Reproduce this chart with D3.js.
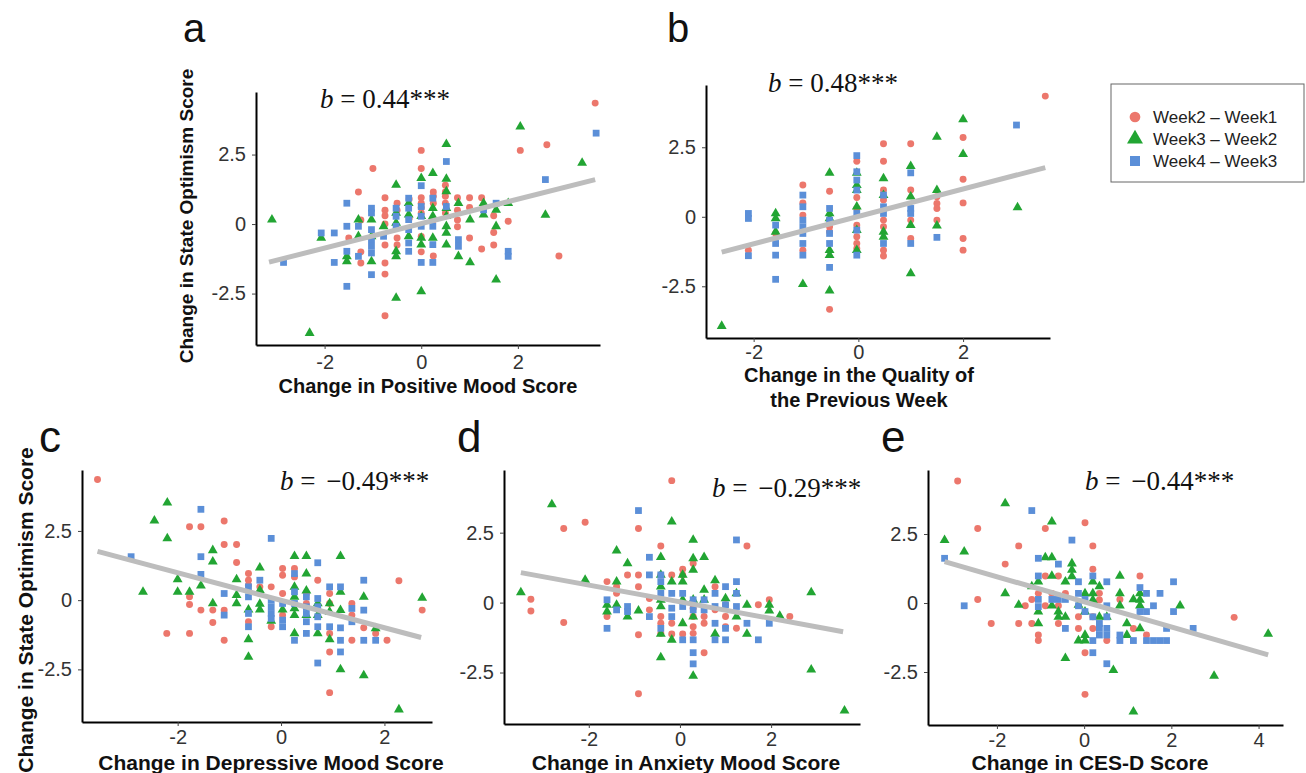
<!DOCTYPE html>
<html lang="en">
<head>
  <meta charset="UTF-8">
  <title>Change in State Optimism Score</title>
  <script src="https://d3js.org/d3.v7.min.js"></script>
  <style>
    body { margin: 0; background: #fff; font-family: "Liberation Sans", Arial, sans-serif; }
    .tick-label { font-size: 20px; fill: #333; }
    .ax-title { font-weight: bold; fill: #111; }
    .slope { font-family: "Liberation Serif", "Times New Roman", serif; font-size: 27px; fill: #111; }
    .letter { fill: #111; }
  </style>
</head>
<body>
  <div id="chart"></div>

  <script>
    // ---- data ----
    const seriesNames = ["Week2 \u2013 Week1", "Week3 \u2013 Week2", "Week4 \u2013 Week3"];
    const xTicks = [-2, 0, 2];
    const xTicksE = [-2, 0, 2, 4];
    const yTicks = [-2.5, 0, 2.5];
    const slopes = ["0.44", "0.48", "\u22120.49", "\u22120.29", "\u22120.44"];

    // panel a: positive mood
    const aW21 = [[-1.0,2.0],[-1.3,1.15],[0,2.65],[0,2.0],[2.05,2.65],[2.6,2.85],[2.85,-1.15],[-0.75,-3.3],[3.6,4.35],
      [0.25,1.15],[-0.75,0.95],[-0.75,0.5],[-0.75,0.3],[-0.75,0],[-0.75,-0.75],[-0.75,-1.4],[-0.75,-1.8],
      [-1.5,-0.5],[-1.25,0.15],[-1.25,-1.0],[-1.25,-1.4],[-0.5,0.75],[-0.5,0.5],[-0.5,-0.5],[-0.5,-0.75],
      [-0.25,0.9],[-0.25,0.2],[0,0.95],[0,0.75],[0,0.6],[0,0.4],[0,-0.45],[0,-1.0],
      [0.25,1.0],[0.25,0.75],[0.25,0.15],[0.25,-1.15],[0.5,1.4],[0.5,1.15],[0.5,1.0],[0.5,0.75],[0.5,0.4],
      [0.75,0.95],[0.75,0.5],[0.75,0.15],[0.75,-0.1],[1.0,0.95],[1.0,0.6],[1.0,-0.5],[1.25,0.95],[1.25,-0.9],
      [1.5,0.3],[1.5,-0.3],[1.5,-0.75],[1.8,0.1]];
    const aW32 = [[-3.09,0.16],[-2.31,-3.92],[-2.07,-0.5],[-1.54,-1.16],[-1.54,-1.34],[-1.3,0.16],[-1.3,-0.44],
      [-1.03,0.16],[-1.03,-0.44],[-1.03,-1.34],[-0.78,-0.08],
      [-0.52,1.41],[-0.52,0.4],[-0.52,0.04],[-0.52,-0.98],[-0.52,-1.16],[-0.52,-2.66],
      [-0.26,0.75],[-0.26,0.34],[-0.26,-0.44],[0,1.65],[0,0.28],[0,-0.5],[0,-0.74],[0,-2.42],
      [0.24,1.83],[0.24,0.57],[0.24,0.28],[0.24,-0.5],
      [0.52,2.87],[0.52,1.62],[0.52,1.17],[0.52,0.57],[0.52,0.28],[0.52,-0.08],[0.52,-0.32],[0.52,-0.74],
      [0.77,0.75],[0.77,-1.16],[1.01,0.16],[1.01,-1.38],[1.29,0.75],[1.29,0.34],
      [1.55,0.51],[1.55,-0.08],[1.55,-2.0],[1.8,0.75],[2.05,3.5],[2.57,0.33],[3.33,2.2]];
    const aW43 = [[-2.85,-1.38],[-2.07,-0.32],[-1.8,-0.32],[-1.8,-1.38],
      [-1.54,0.75],[-1.54,-0.08],[-1.54,-0.98],[-1.54,-2.24],[-1.3,-0.08],[-1.3,-1.16],
      [-1.03,0.57],[-1.03,0.4],[-1.03,-0.2],[-1.03,-0.56],[-1.03,-0.8],[-1.03,-1.04],[-1.03,-1.82],
      [-0.78,-0.44],[-0.52,0.57],[-0.52,0.28],[-0.52,-0.08],
      [-0.26,0.93],[-0.26,0.57],[-0.26,0.16],[-0.26,-0.2],[-0.26,-0.68],[-0.26,-0.98],
      [0,1.38],[0,0.63],[0,0.28],[0,-0.08],[0,-1.38],[0.24,0.93],[0.24,-0.08],[0.24,-0.74],[0.24,-1.38],
      [0.52,0.63],[0.77,-0.56],[0.77,-0.8],[1.29,0.51],[1.55,0.75],[1.8,-0.98],[1.8,-1.16],
      [0.52,2.25],[2.57,1.6],[3.62,3.27]];
    const aFit = [[-3.15,-1.37],[3.6,1.6]];

    // panel b: quality of previous week
    const bW21 = [[-2.1,-1.2],[-1.58,-0.6],[-1.06,1.14],[-1.06,0.5],[-1.06,0.06],[-1.06,-1.2],
      [-0.55,0.92],[-0.55,-0.36],[-0.55,-0.54],[-0.55,-3.33],
      [-0.03,2.0],[-0.03,0.69],[-0.03,0.3],[-0.03,-0.3],[-0.03,-0.72],[-0.03,-0.96],[-0.03,-1.14],
      [0.48,2.63],[0.48,2.0],[0.48,0.96],[0.48,0.6],[0.48,-0.12],[0.48,-0.36],[0.48,-1.2],[0.48,-1.41],
      [1.0,2.63],[1.0,0.96],[1.0,-0.12],[1.0,-0.78],[1.5,0.72],[1.5,0.48],[1.5,0.3],[1.5,-0.12],
      [2.0,2.85],[2.0,1.35],[2.0,0.5],[2.0,-0.78],[2.0,-1.2],[3.57,4.34]];
    const bW32 = [[-2.61,-3.93],[-1.58,0.12],[-1.58,-0.06],[-1.58,-0.54],[-1.06,-2.42],
      [-0.55,1.58],[-0.55,0.12],[-0.55,-0.06],[-0.55,-1.2],[-0.55,-1.38],[-0.55,-2.66],
      [-0.03,1.58],[-0.03,1.14],[-0.03,0.96],[-0.03,0.36],[-0.03,-0.48],[-0.03,-1.2],
      [0.48,1.38],[0.48,0.78],[0.48,-0.54],[0.48,-0.72],[1.0,1.82],[1.0,0.72],[1.0,-0.3],[1.0,-2.04],
      [1.5,2.87],[1.5,0.96],[1.5,-0.32],[2.0,3.5],[2.0,2.25],[3.04,0.34]];
    const bW43 = [[-2.1,0.12],[-2.1,-0.06],[-2.1,-1.4],[-1.58,-0.3],[-1.58,-0.96],[-1.58,-1.38],[-1.58,-2.25],
      [-1.06,0.78],[-1.06,0.36],[-1.06,-0.12],[-1.06,-0.36],[-1.06,-0.6],[-1.06,-0.96],[-1.06,-1.38],
      [-0.55,0.3],[-0.55,-0.12],[-0.55,-0.6],[-0.55,-0.96],[-0.55,-1.82],
      [-0.03,2.2],[-0.03,1.62],[-0.03,1.32],[-0.03,0.96],[-0.03,0.12],[-0.03,-0.48],[-0.03,-1.38],
      [0.48,0.78],[0.48,0.36],[0.48,0.12],[0.48,-0.96],[1.0,1.58],[1.0,0.3],[1.0,0.12],[1.0,-0.96],
      [1.5,-0.74],[3.02,3.3]];
    const bFit = [[-2.61,-1.27],[3.57,1.77]];

    // panel c: depressive mood
    const cW21 = [[-3.55,4.36],[-1.77,2.65],[-1.55,2.65],[-1.1,2.86],[-1.1,2.01],[-0.86,2.01],[-0.86,1.36],
      [-1.77,0.12],[-1.77,-0.16],[-1.55,-0.36],[-1.32,-0.36],[-1.32,-0.81],[-1.1,-0.36],[-1.1,-1.45],
      [-2.21,-1.2],[-1.77,-1.2],[-0.63,0.96],[-0.63,0.72],[-0.63,0.54],[-0.63,-0.78],
      [-0.41,0.48],[-0.41,0.24],[-0.19,0.48],[-0.19,-0.96],[0.03,1.14],[0.03,0.9],[0.03,0.24],[0.03,-0.54],
      [0.26,1.14],[0.26,0.84],[0.49,0.24],[0.49,-0.12],[0.71,0.72],
      [0.94,0.24],[0.94,-0.12],[0.94,-1.2],[0.94,-1.87],[0.94,-3.34],
      [1.37,-0.12],[1.37,-0.54],[1.37,-1.45],[1.6,-1.0],[1.83,-1.2],[2.05,-1.45],[2.28,0.7],[2.73,-0.36]];
    const cW32 = [[-2.67,0.3],[-2.45,2.87],[-2.2,3.52],[-2.2,2.23],[-2.0,0.75],[-2.0,0.3],[-1.77,0.3],[-1.55,0.52],
      [-1.32,1.8],[-1.32,1.39],[-1.32,-0.12],[-0.86,0.75],[-0.86,0.18],[-0.86,-0.12],
      [-0.63,-0.34],[-0.63,-1.42],[-0.63,-2.05],[-0.41,1.17],[-0.41,0.36],[-0.41,-0.14],[-0.41,-0.34],
      [-0.19,-0.75],[0.03,-0.34],[0.26,1.59],[0.26,0.48],[0.26,0.12],[0.26,-0.3],[0.26,-0.54],[0.26,-1.2],
      [0.49,1.59],[0.49,0.96],[0.49,0.34],[0.49,-0.54],[0.71,-0.12],[0.71,-0.54],[0.71,-1.2],
      [0.94,-0.12],[0.94,-0.42],[0.94,-1.42],[1.15,1.59],[1.15,0.3],[1.15,-0.36],[1.15,-2.5],
      [1.6,0.12],[1.6,-2.72],[1.83,-1.02],[2.28,-3.95],[2.73,0.08]];
    const cW43 = [[-2.9,1.57],[-1.55,3.28],[-1.55,1.57],[-1.55,0.93],[-1.1,0.24],[-1.1,-0.54],
      [-0.63,0.48],[-0.63,0.12],[-0.63,-0.48],[-0.63,-0.96],[-0.41,0.72],
      [-0.19,2.23],[-0.19,0],[-0.19,-0.24],[-0.19,-0.48],[-0.19,-0.66],[0.03,-0.12],[0.03,-0.72],[0.03,-0.96],
      [0.26,0.96],[0.26,0.3],[0.26,-0.12],[0.26,-1.45],[0.49,0.12],[0.49,-0.24],[0.49,-0.48],[0.49,-0.78],[0.49,-1.2],
      [0.71,1.35],[0.71,0.06],[0.71,-0.24],[0.71,-0.6],[0.71,-0.96],[0.71,-2.27],[0.94,0.48],[0.94,-0.96],
      [1.15,0.48],[1.15,-1.0],[1.15,-1.45],[1.15,-1.87],[1.37,-0.3],[1.37,-0.78],
      [1.6,0.72],[1.6,-0.36],[1.6,-1.45],[1.83,-1.45]];
    const cFit = [[-3.55,1.76],[2.71,-1.35]];

    // panel d: anxiety mood
    const dW21 = [[-3.27,0.12],[-3.27,-0.3],[-2.55,2.65],[-2.55,-0.71],[-2.08,2.87],[-1.6,0.75],[-1.6,-0.5],
      [-1.39,0.57],[-1.39,0.33],[-1.15,0.99],[-0.91,2.65],[-0.91,0.99],[-0.91,0.57],[-0.91,-1.15],[-0.91,-3.26],
      [-0.67,0.15],[-0.67,-0.26],[-0.42,2.02],[-0.42,0.99],[-0.42,-0.5],[-0.42,-0.74],[-0.42,-1.1],
      [-0.18,0.99],[-0.18,-0.74],[-0.18,-1.12],[-0.18,4.36],[0.06,1.19],[0.06,0.99],[0.06,-1.12],
      [0.29,1.4],[0.29,-0.2],[0.29,-0.5],[0.29,-0.86],[0.29,-1.1],[0.53,-0.5],[0.53,-0.74],[0.53,-1.79],
      [0.77,0.57],[0.77,-0.26],[1.0,-0.08],[1.0,-0.5],[1.0,-0.86],[1.24,-0.92],[1.47,2.02],[1.72,-0.08],
      [1.96,0.1],[2.41,-0.5]];
    const dW32 = [[-3.49,0.36],[-2.81,3.51],[-2.08,0.81],[-1.6,-0.08],[-1.6,-0.32],
      [-1.39,1.86],[-1.39,0.75],[-1.39,-0.08],[-1.15,1.4],[-1.15,-0.5],[-0.91,-0.29],
      [-0.42,1.62],[-0.42,0.99],[-0.42,0.57],[-0.42,0.1],[-0.42,-0.14],[-0.42,-1.12],[-0.42,-1.96],
      [-0.18,2.89],[-0.18,0.75],[-0.18,-1.33],[0.06,0.99],[0.06,0.75],[0.06,0.1],[0.06,-0.74],
      [0.29,2.24],[0.29,1.58],[0.29,1.17],[0.29,0.1],[0.29,-0.5],[0.29,-2.62],
      [0.53,1.62],[0.53,0.45],[0.53,0.1],[0.77,0.79],[0.77,-1.12],[1.0,0.15],[1.24,0.33],[1.24,-0.5],
      [1.47,-0.08],[1.47,-1.12],[1.96,-0.08],[1.96,-0.29],[2.19,-0.48],[2.88,0.36],[2.88,-2.4],[3.61,-3.86]];
    const dW43 = [[-1.6,0.1],[-1.6,-0.92],[-1.39,-0.26],[-1.15,-0.14],[-1.15,-0.32],[-0.91,3.29],
      [-0.67,1.62],[-0.67,0.99],[-0.67,-0.5],[-0.42,0.99],[-0.42,0.75],[-0.42,0.33],[-0.42,-0.92],
      [-0.18,0.33],[-0.18,-0.2],[-0.18,-0.5],[0.06,0.33],[0.06,-0.14],[0.06,-1.33],
      [0.29,0.1],[0.29,-0.26],[0.29,-1.33],[0.29,-1.79],[0.29,-2.19],[0.53,0.1],[0.53,-0.26],
      [0.77,0.33],[0.77,-0.14],[0.77,-0.74],[0.77,-1.33],[1.0,0.57],[1.0,-0.08],[1.0,-0.92],[1.0,-1.33],
      [1.24,2.24],[1.24,0.75],[1.24,0.33],[1.24,-0.14],[1.47,-0.74],[1.72,-1.33],[1.96,-0.74]];
    const dFit = [[-3.49,1.07],[3.58,-1.04]];

    // panel e: CES-D
    const eW21 = [[-2.9,4.42],[-2.44,2.7],[-1.5,2.07],[-0.89,2.7],[0.02,2.91],[0.2,2.07],[-1.81,1.41],
      [-2.44,0.13],[-2.13,-0.74],[-1.5,-0.74],[-1.2,-0.74],[-1.35,-0.1],[-1.2,0.13],
      [-1.05,0.35],[-1.05,-1.16],[-1.05,-1.36],[-0.89,-0.1],[-0.89,0.98],[-0.74,0.35],
      [-0.59,0.98],[-0.59,-0.74],[-0.59,-0.1],[-0.43,0.35],[-0.13,-0.5],[-0.13,-0.92],
      [0.02,-1.8],[0.02,-3.31],[0.2,1.22],[0.2,-0.5],[0.2,-0.92],[0.35,0.35],[0.35,0.11],
      [0.52,-1.36],[0.82,0.13],[1.28,0.98],[1.13,-0.92],[1.43,-1.16],[3.44,-0.52]];
    const eW32 = [[-3.2,2.28],[-2.75,1.86],[-1.81,3.61],[-0.74,2.95],[-0.89,1.65],[-0.74,1.65],
      [-1.81,0.35],[-1.5,-0.07],[-1.2,0.6],[-1.05,0.77],[-1.05,-0.31],[-1.05,-0.74],
      [-0.74,0.98],[-0.74,-0.1],[-0.59,-0.31],[-0.59,-0.5],[-0.43,0.77],[-0.43,-0.5],[-0.43,-2.0],
      [-0.28,1.43],[-0.28,1.2],[-0.28,0.96],[-0.13,-0.07],[-0.13,-1.36],
      [0.02,0.35],[0.02,-0.31],[0.02,-1.16],[0.02,-1.36],[0.2,0.77],[0.2,0.35],[0.2,0.11],
      [0.35,0.6],[0.35,-0.5],[0.52,-0.5],[0.67,-2.43],[0.82,0.98],[0.82,0.35],[0.82,-0.1],
      [0.98,-0.74],[0.98,-1.16],[1.13,0.13],[1.28,0.35],[1.28,0.11],[1.28,-0.1],[1.28,-0.92],
      [1.13,-3.94],[2.2,-0.1],[2.98,-2.64],[4.22,-1.12]];
    const eW43 = [[-3.2,1.62],[-2.75,-0.1],[-1.2,3.35],[-1.05,1.62],[-1.05,0.98],[-1.05,0.13],[-1.05,-0.13],
      [-0.59,1.41],[-0.74,0.13],[-0.59,0.13],[-0.43,0.13],[-0.43,-0.92],[-0.28,2.28],
      [-0.13,0.77],[-0.13,0.35],[-0.13,-0.1],[0.02,0.13],[0.02,-0.31],
      [0.2,0.98],[0.2,-0.5],[0.2,-1.36],[0.2,-1.8],[0.35,-0.74],[0.35,-0.92],[0.35,-1.16],
      [0.52,0.77],[0.52,-0.1],[0.52,-0.5],[0.52,-0.92],[0.52,-1.16],[0.52,-2.2],
      [0.82,-1.16],[0.82,-1.36],[1.13,-1.36],[1.28,0.56],[1.28,-0.31],[1.43,0.35],[1.43,-0.31],[1.59,-0.1],
      [1.43,-1.36],[1.59,-1.36],[1.74,-1.36],[1.89,-1.36],[1.74,0.35],[1.89,-0.92],[2.05,0.77],[2.05,-0.31],[2.5,-0.92]];
    const eFit = [[-3.2,1.5],[4.22,-1.88]];

    // ---- layout ----
    const colors = ["#ec776c", "#22a533", "#5b8fd8"];
    const shapes = [d3.symbolCircle, d3.symbolTriangle, d3.symbolSquare];
    const sizes = [38, 42, 46];

    const panels = [
      {letter:"a", series:[aW21,aW32,aW43], fit:aFit, slope:slopes[0], xt:xTicks,
       box:[256,600,92,345], xd:[-3.42,3.7], yd:[-4.35,4.75], lx:183, ly:42, ls:40,
       sx:320, sy:108, xTitle:["Change in Positive Mood Score"], tx:428, ty:393, fs:20, tickDy:25, yTitle:{x:193, y:216, fs:19}},
      {letter:"b", series:[bW21,bW32,bW43], fit:bFit, slope:slopes[1], xt:xTicks,
       box:[706,1050,85,338], xd:[-2.91,3.66], yd:[-4.36,4.74], lx:667, ly:42, ls:40,
       sx:768, sy:92, xTitle:["Change in the Quality of", "the Previous Week"], tx:859, ty:382, fs:20, tickDy:22},
      {letter:"c", series:[cW21,cW32,cW43], fit:cFit, slope:slopes[2], xt:xTicks,
       box:[82,432,470,722], xd:[-3.85,2.92], yd:[-4.4,4.7], lx:39, ly:452, ls:44,
       sx:280, sy:490, xTitle:["Change in Depressive Mood Score"], tx:271, ty:770, fs:21, tickDy:23, yTitle:{x:33, y:610, fs:21}},
      {letter:"d", series:[dW21,dW32,dW43], fit:dFit, slope:slopes[3], xt:xTicks,
       box:[504,860,470,724], xd:[-3.86,3.95], yd:[-4.34,4.74], lx:457, ly:452, ls:44,
       sx:712, sy:497, xTitle:["Change in Anxiety Mood Score"], tx:686, ty:770, fs:21, tickDy:23},
      {letter:"e", series:[eW21,eW32,eW43], fit:eFit, slope:slopes[4], xt:xTicksE,
       box:[928,1283,470,725], xd:[-3.58,4.56], yd:[-4.42,4.82], lx:881, ly:452, ls:44,
       sx:1085, sy:490, xTitle:["Change in CES-D Score"], tx:1090, ty:770, fs:21, tickDy:23}
    ];

    const svg = d3.select("#chart").append("svg")
      .attr("width", 1306).attr("height", 773);

    const minusFmt = d => d < 0 ? "-" + Math.abs(d) : String(d);

    panels.forEach(p => {
      const [l, r, t, b] = p.box;
      const x = d3.scaleLinear().domain(p.xd).range([l, r]);
      const y = d3.scaleLinear().domain(p.yd).range([b, t]);
      const g = svg.append("g");

      // axes
      const gx = g.append("g").attr("transform", `translate(0,${b})`)
        .call(d3.axisBottom(x).tickValues(p.xt).tickSize(4).tickSizeOuter(0)
          .tickPadding(p.tickDy - 19).tickFormat(minusFmt));
      const gy = g.append("g").attr("transform", `translate(${l},0)`)
        .call(d3.axisLeft(y).tickValues(yTicks).tickSize(4).tickSizeOuter(0)
          .tickPadding(6).tickFormat(minusFmt));
      [gx, gy].forEach(ax => {
        ax.select(".domain").attr("stroke", "#000").attr("stroke-width", 2);
        ax.selectAll(".tick line").attr("stroke", "#444");
        ax.selectAll(".tick text").attr("class", "tick-label")
          .style("font-family", '"Liberation Sans", Arial, sans-serif').style("font-size", "20px").attr("fill", "#333");
      });

      // points
      p.series.forEach((pts, i) => {
        g.append("g").selectAll("path").data(pts).join("path")
          .attr("d", d3.symbol().type(shapes[i]).size(sizes[i]))
          .attr("transform", d => `translate(${x(d[0])},${y(d[1])})`)
          .attr("fill", colors[i]);
      });

      // fit line
      g.append("line")
        .attr("x1", x(p.fit[0][0])).attr("y1", y(p.fit[0][1]))
        .attr("x2", x(p.fit[1][0])).attr("y2", y(p.fit[1][1]))
        .attr("stroke", "#bdbdbd").attr("stroke-width", 5);

      // slope label
      const st = g.append("text").attr("class", "slope").attr("x", p.sx).attr("y", p.sy);
      st.append("tspan").attr("font-style", "italic").text("b");
      st.append("tspan").text(" = ");
      st.append("tspan").attr("dx", p.slope.startsWith("\u2212") ? 4 : 0).text(p.slope + "***");

      // panel letter
      g.append("text").attr("class", "letter").attr("x", p.lx).attr("y", p.ly)
        .style("font-size", p.ls + "px").text(p.letter);

      // x title
      p.xTitle.forEach((line, k) => {
        g.append("text").attr("class", "ax-title").attr("text-anchor", "middle")
          .attr("x", p.tx).attr("y", p.ty + k * 25).style("font-size", p.fs + "px").text(line);
      });

      // y title
      if (p.yTitle) {
        g.append("text").attr("class", "ax-title").attr("text-anchor", "middle")
          .attr("transform", `translate(${p.yTitle.x},${p.yTitle.y}) rotate(-90)`)
          .style("font-size", p.yTitle.fs + "px").text("Change in State Optimism Score");
      }
    });

    // legend
    const lg = svg.append("g").attr("transform", "translate(1111,84)");
    lg.append("rect").attr("width", 193).attr("height", 98)
      .attr("fill", "#fff").attr("stroke", "#666").attr("stroke-width", 1);
    const legendSizes = [90, 110, 100];
    seriesNames.forEach((name, i) => {
      const row = lg.append("g").attr("transform", `translate(24,${33 + i * 22})`);
      row.append("path").attr("d", d3.symbol().type(shapes[i]).size(legendSizes[i])).attr("fill", colors[i]);
      row.append("text").attr("x", 18).attr("y", 6).style("font-size", "17px").attr("fill", "#222").text(name);
    });
  </script>
</body>
</html>
